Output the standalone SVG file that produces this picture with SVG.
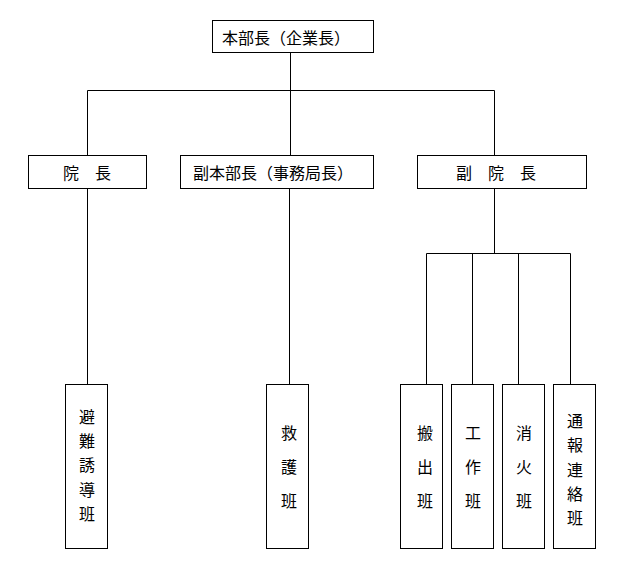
<svg xmlns="http://www.w3.org/2000/svg" width="618" height="566" viewBox="0 0 618 566">
<style>
.box{fill:#fff;stroke:#000;stroke-width:1}
.ln{fill:none;stroke:#000;stroke-width:1}
text{font-family:"Noto Sans CJK JP","Noto Sans CJK SC",sans-serif;font-size:16px;fill:#000;text-anchor:middle;dominant-baseline:central}
</style>
<rect width="618" height="566" fill="#fff"/>
<g id="connectors" class="ln">
<path d="M290.5 52.5V90.5M87.5 90.5H494.5M87.5 90.5V155.5M290.5 90.5V155.5M494.5 90.5V155.5"/>
<path d="M87.5 188.5V384.5M289.5 188.5V384.5"/>
<path d="M494.5 188.5V253.5M426.5 253.5H570.5M426.5 253.5V384.5M472.5 253.5V384.5M518.5 253.5V384.5M570.5 253.5V384.5"/>
</g>
<g id="n-honbucho"><rect class="box" x="212.5" y="20.5" width="161" height="32"/><text x="286" y="37">本部長（企業長）</text></g>
<g id="n-incho"><rect class="box" x="28.5" y="155.5" width="118" height="33"/><text x="87" y="172">院　長</text></g>
<g id="n-fukuhonbucho"><rect class="box" x="180.5" y="155.5" width="193" height="33"/><text x="273" y="172">副本部長（事務局長）</text></g>
<g id="n-fukuincho"><rect class="box" x="417.5" y="155.5" width="169" height="33"/><text x="496" y="172">副　院　長</text></g>
<g id="n-hinan"><rect class="box" x="65.5" y="384.5" width="42" height="164"/>
<text x="87" y="416">避</text><text x="87" y="440">難</text><text x="87" y="464">誘</text><text x="87" y="489">導</text><text x="87" y="513">班</text></g>
<g id="n-kyugo"><rect class="box" x="266.5" y="384.5" width="42" height="164"/>
<text x="289" y="432">救</text><text x="289" y="466">護</text><text x="289" y="500">班</text></g>
<g id="n-hanshutsu"><rect class="box" x="400.5" y="384.5" width="42" height="164"/>
<text x="425" y="432">搬</text><text x="425" y="466">出</text><text x="425" y="500">班</text></g>
<g id="n-kosaku"><rect class="box" x="451.5" y="384.5" width="42" height="164"/>
<text x="473" y="432">工</text><text x="473" y="466">作</text><text x="473" y="500">班</text></g>
<g id="n-shoka"><rect class="box" x="502.5" y="384.5" width="42" height="164"/>
<text x="524" y="432">消</text><text x="524" y="466">火</text><text x="524" y="500">班</text></g>
<g id="n-tsuho"><rect class="box" x="553.5" y="384.5" width="42" height="164"/>
<text x="575" y="420">通</text><text x="575" y="444">報</text><text x="575" y="469">連</text><text x="575" y="493">絡</text><text x="575" y="517">班</text></g>
</svg>
